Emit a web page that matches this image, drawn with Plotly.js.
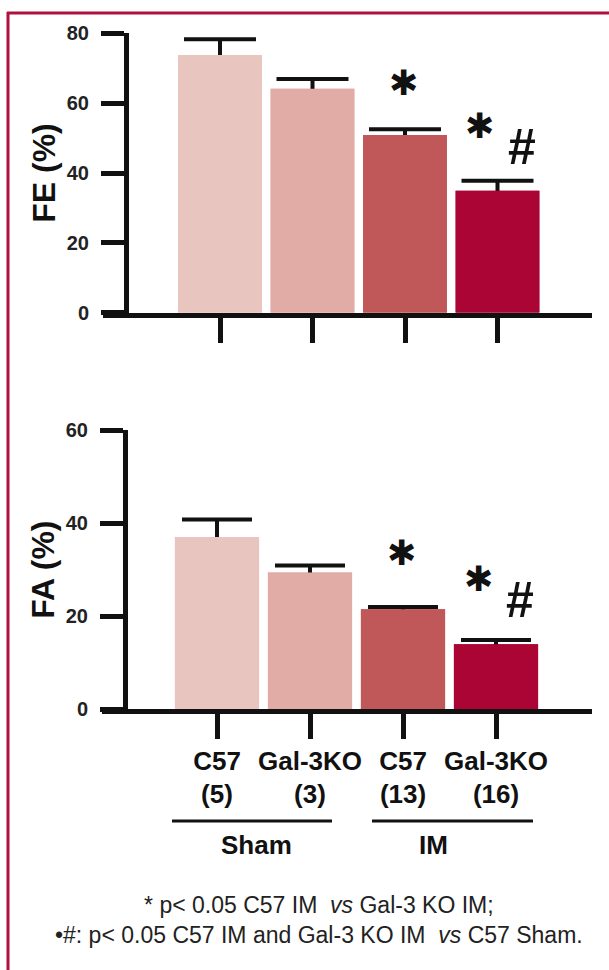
<!DOCTYPE html>
<html>
<head>
<meta charset="utf-8">
<script src="https://cdn.plot.ly/plotly-3.0.1.min.js"></script>
<style>
  html, body { margin: 0; padding: 0; background: #ffffff; }
  #chart { width: 609px; height: 970px; }
</style>
</head>
<body>
<div id="chart"></div>
<script>
// ---- data ----
const categories = ['C57', 'Gal-3KO', 'C57', 'Gal-3KO'];
const groupSizes = ['(5)', '(3)', '(13)', '(16)'];
const groups = ['Sham', 'IM'];
const groupStart = [0, 2];
const groupEnd = [1, 3];

const feMean = [73.8, 64.1, 50.9, 34.9];
const feSem = [4.5, 2.8, 1.6, 2.9];
const faMean = [37.0, 29.4, 21.5, 14.0];
const faSem = [3.8, 1.5, 0.5, 0.9];

const feTicks = [0, 20, 40, 60, 80];
const faTicks = [0, 20, 40, 60];

const sigStar = [false, false, true, true];   // * vs ...
const sigHash = [false, false, false, true];  // # vs C57 Sham

const barColors = ['#E9C5BF', '#E1ABA6', '#C0585A', '#AA0534'];

const footnote = '* p< 0.05 C57 IM  <i>vs</i> Gal-3 KO IM;<br>•#: p< 0.05 C57 IM and Gal-3 KO IM  <i>vs</i> C57 Sham.';

// ---- geometry helpers (page is 609 x 970, no margins) ----
const W = 609, H = 970;
const px = v => v / W;
const py = v => 1 - v / H;
const FONT = 'Liberation Sans, Arial, Helvetica, sans-serif';
const INK = '#111111';
const xIdx = categories.map((c, i) => i);

function barTraces(mean, sem, xa, ya, capW) {
  const cover = mean.map(() => 2); // hides lower cross-bar inside the bar
  return [
    {
      type: 'bar', x: xIdx, y: mean, xaxis: xa, yaxis: ya,
      width: 0.905,
      marker: { color: barColors, line: { width: 0 } },
      error_y: { type: 'data', symmetric: false, array: sem, arrayminus: cover,
                 color: INK, thickness: 4, width: capW },
      hoverinfo: 'skip', showlegend: false
    },
    {
      type: 'bar', x: xIdx, y: mean, xaxis: xa, yaxis: ya,
      width: 0.905,
      marker: { color: barColors, line: { width: 0 } },
      hoverinfo: 'skip', showlegend: false
    }
  ];
}

const data = [
  ...barTraces(feMean, feSem, 'x', 'y', 36),
  ...barTraces(faMean, faSem, 'x2', 'y2', 35)
];

function yAxis(domTop, domBot, xPos, ticks, title) {
  return {
    domain: [py(domBot), py(domTop)],
    range: [0, ticks[ticks.length - 1]],
    anchor: 'free', position: px(xPos),
    tickvals: ticks,
    ticks: 'outside', ticklen: 23, tickwidth: 5, tickcolor: INK,
    showline: true, linewidth: 5, linecolor: INK,
    showgrid: false, zeroline: false,
    tickfont: { family: FONT, size: 20, weight: 'bold', color: '#222' },
    ticklabelstandoff: 8,
    title: { text: title, font: { family: FONT, size: 32, weight: 'bold', color: INK }, standoff: 0 },
    fixedrange: true
  };
}

function xAxis(left, right, zeroPx, stepPx, anchor, showLabels) {
  const r0 = -(zeroPx - left) / stepPx;
  const r1 = r0 + (right - left) / stepPx;
  return {
    domain: [px(left), px(right)],
    range: [r0, r1],
    anchor: anchor,
    tickvals: xIdx,
    ticktext: categories.map((c, i) => c + '<br>' + groupSizes[i]),
    showticklabels: showLabels,
    ticks: 'outside', ticklen: 25, tickwidth: 5, tickcolor: INK,
    showline: true, linewidth: 5, linecolor: INK,
    showgrid: false, zeroline: false,
    tickfont: { family: FONT, size: 26, weight: 'bold', color: INK },
    ticklabelstandoff: -1,
    fixedrange: true
  };
}

// significance marks, placed relative to each bar's error-bar top
function sigAnnots(mean, sem, xa, ya, starShift, hashShift) {
  const out = [];
  mean.forEach((m, i) => {
    const top = m + sem[i];
    const pair = sigHash[i];
    if (sigStar[i]) {
      out.push({ xref: xa, yref: ya, x: i, y: top, text: '✱', showarrow: false,
        xshift: pair ? -18 : -2, yshift: pair ? starShift[1] : starShift[0],
        font: { family: 'DejaVu Sans', size: 35, color: INK } });
    }
    if (sigHash[i]) {
      out.push({ xref: xa, yref: ya, x: i, y: top, text: '#', showarrow: false,
        xshift: 24, yshift: hashShift,
        font: { family: FONT, size: 50, weight: 'bold', color: INK } });
    }
  });
  return out;
}

const step2 = 93, zero2 = 217;
const annotations = [
  ...sigAnnots(feMean, feSem, 'x', 'y', [46, 55], 34),
  ...sigAnnots(faMean, faSem, 'x2', 'y2', [54, 61], 40),
  { xref: 'paper', yref: 'paper', x: px(319), y: py(920), xanchor: 'center', yanchor: 'middle',
    text: footnote, showarrow: false, align: 'center',
    font: { family: FONT, size: 23, color: '#222' } }
];

// group brackets under the category labels
const groupPadL = [45, 31], groupPadR = [22, 37], groupLabelShift = [-7, -16];
const shapes = [
  // frame (top and left edges visible)
  { type: 'line', xref: 'paper', yref: 'paper', x0: px(7), x1: px(W + 5), y0: py(13), y1: py(13),
    line: { color: '#B0103E', width: 3 } },
  { type: 'line', xref: 'paper', yref: 'paper', x0: px(8), x1: px(8), y0: py(12), y1: py(H + 5),
    line: { color: '#B0103E', width: 3 } }
];
groups.forEach((g, k) => {
  shapes.push({ type: 'line', xref: 'x2', yref: 'paper',
    x0: groupStart[k] - groupPadL[k] / step2, x1: groupEnd[k] + groupPadR[k] / step2,
    y0: py(821), y1: py(821), line: { color: INK, width: 3 } });
  annotations.push({ xref: 'x2', yref: 'paper', x: (groupStart[k] + groupEnd[k]) / 2, y: py(845),
    xshift: groupLabelShift[k], yanchor: 'middle', text: g, showarrow: false,
    font: { family: FONT, size: 26, weight: 'bold', color: INK } });
});

const layout = {
  width: W, height: H,
  margin: { l: 0, r: 0, t: 0, b: 0 },
  paper_bgcolor: '#ffffff', plot_bgcolor: 'rgba(0,0,0,0)',
  barmode: 'overlay',
  showlegend: false,
  xaxis: xAxis(103, 592, 220, 92.5, 'y', false),
  yaxis: yAxis(33.3, 312.7, 126, feTicks, 'FE (%)'),
  xaxis2: xAxis(102, 592, zero2, step2, 'y2', true),
  yaxis2: yAxis(430, 709.3, 125, faTicks, 'FA (%)'),
  annotations: annotations,
  shapes: shapes
};

Plotly.newPlot('chart', data, layout, { staticPlot: true, displayModeBar: false });
</script>
</body>
</html>
